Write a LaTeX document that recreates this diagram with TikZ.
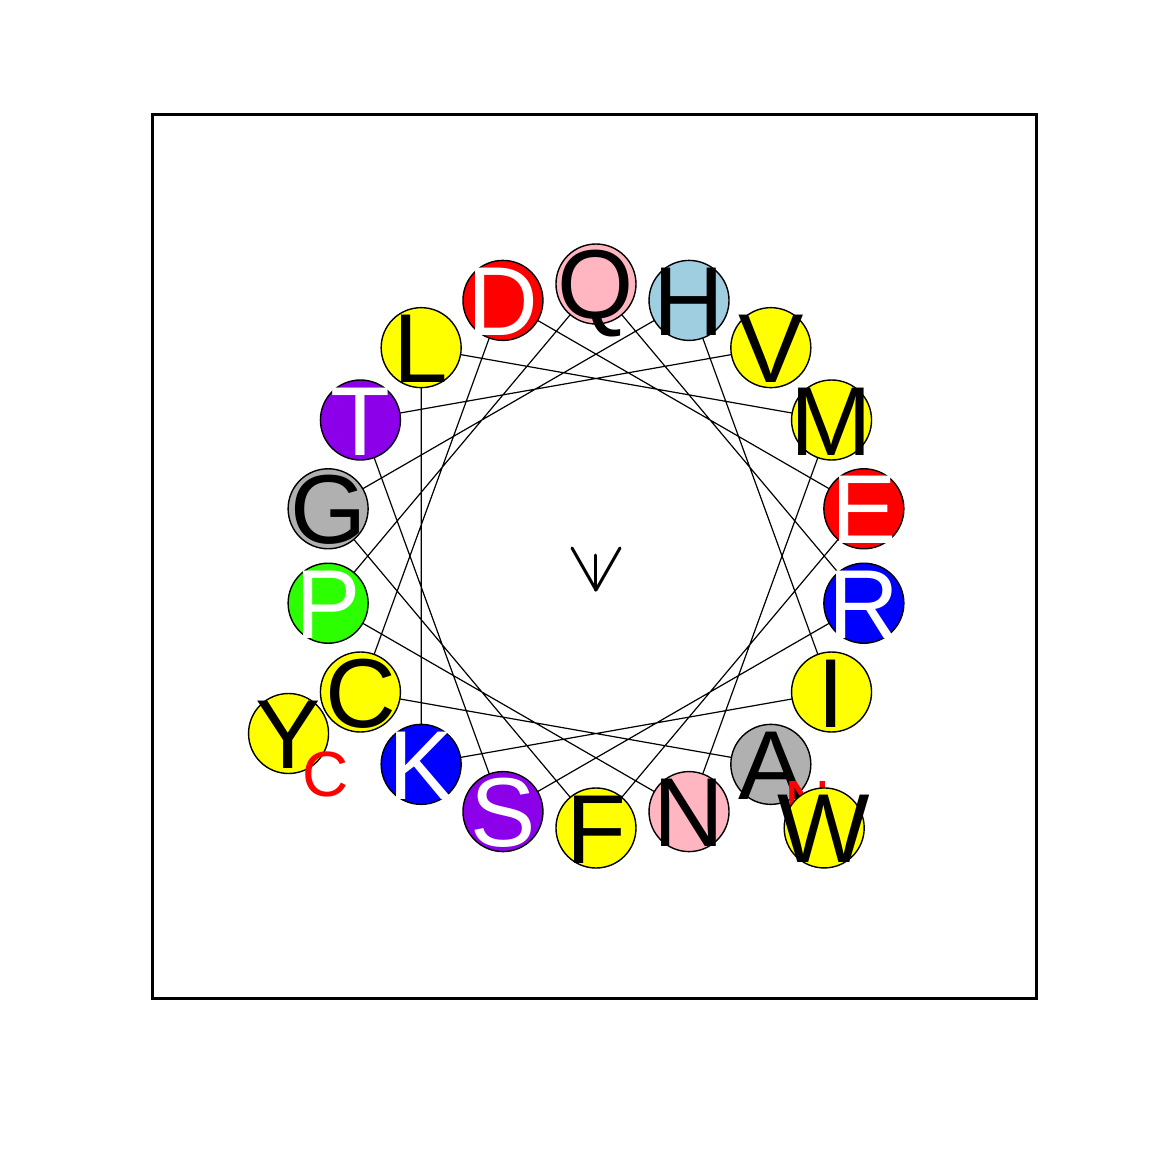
\documentclass[tikz,border=0pt]{standalone}
\usepackage{fontspec}
\setmainfont{Liberation Sans}
\usepackage{tikz}
\usetikzlibrary{
  backgrounds
}
\definecolor{hwYellow}{HTML}{FFFF00}
\definecolor{hwRed}{HTML}{FF0000}
\definecolor{hwPink}{HTML}{FFB6C1}
\definecolor{hwCyan}{HTML}{9ECEDF}
\definecolor{hwPurple}{HTML}{8B00E8}
\definecolor{hwGray}{HTML}{B0B0B0}
\definecolor{hwGreen}{HTML}{2BFF00}
\definecolor{hwBlue}{HTML}{0000FF}
\tikzset{
  res/.style={
    circle, draw, line width=1.4pt, minimum size=80pt, inner sep=0pt
  },
  letter/.style={
    font=\fontsize{98}{98}\selectfont, text height=70pt, text depth=0pt, inner sep=0pt
  },
  dark/.style={label={[letter, text=black]center:#1}},
  light/.style={label={[letter, text=white]center:#1}},
  termtag/.style={font=\fontsize{64}{64}\selectfont, text=hwRed, text height=46pt, text depth=0pt, inner sep=0pt},
  link/.style={line width=1.2pt, black},
  moment/.style={line width=3pt, line cap=round, line join=round},
  frame/.style={line width=3pt}
}

\begin{document}
\begin{tikzpicture}[x=1pt, y=1pt]
  \useasboundingbox (-596,-596) rectangle (556,556);
  \draw[frame] (-443,-442) rectangle (440,441);

  % wheel, 100 degrees per residue
  \node[res, fill=hwGray, dark=A] (r1) at (-50:272) {};
  \node[res, fill=hwYellow, dark=C] (r2) at (-150:272) {};
  \node[res, fill=hwRed, light=D] (r3) at (110:272) {};
  \node[res, fill=hwRed, light=E] (r4) at (10:272) {};
  \node[res, fill=hwYellow, dark=F] (r5) at (-90:272) {};
  \node[res, fill=hwGray, dark=G] (r6) at (170:272) {};
  \node[res, fill=hwCyan, dark=H] (r7) at (70:272) {};
  \node[res, fill=hwYellow, dark=I] (r8) at (-30:272) {};
  \node[res, fill=hwBlue, light=K] (r9) at (-130:272) {};
  \node[res, fill=hwYellow, dark=L] (r10) at (130:272) {};
  \node[res, fill=hwYellow, dark=M] (r11) at (30:272) {};
  \node[res, fill=hwPink, dark=N] (r12) at (-70:272) {};
  \node[res, fill=hwGreen, light=P] (r13) at (-170:272) {};
  \node[res, fill=hwPink, dark=Q] (r14) at (90:272) {};
  \node[res, fill=hwBlue, light=R] (r15) at (-10:272) {};
  \node[res, fill=hwPurple, light=S] (r16) at (-110:272) {};
  \node[res, fill=hwPurple, light=T] (r17) at (150:272) {};
  \node[res, fill=hwYellow, dark=V] (r18) at (50:272) {};

  \node[termtag] (nterm) at (212,-246) {N};

  % outer turn
  \node[res, fill=hwYellow, dark=W] (r19) at (-50:355) {};
  \node[res, fill=hwYellow, dark=Y] (r20) at (-150:355) {};

  \node[termtag] (cterm) at (-270,-217) {C};

  \begin{scope}[on background layer]
    \draw[link] (r1.center) -- (r2.center) -- (r3.center) -- (r4.center)
      -- (r5.center) -- (r6.center) -- (r7.center) -- (r8.center)
      -- (r9.center) -- (r10.center) -- (r11.center) -- (r12.center)
      -- (r13.center) -- (r14.center) -- (r15.center) -- (r16.center)
      -- (r17.center) -- (r18.center);
  \end{scope}

  % hydrophobic moment
  \coordinate (mtip) at (0,-34);
  \draw[moment] (0,1) -- (mtip);
  \draw[moment] (-24,8) -- (mtip) -- (24,8);
\end{tikzpicture}
\end{document}
